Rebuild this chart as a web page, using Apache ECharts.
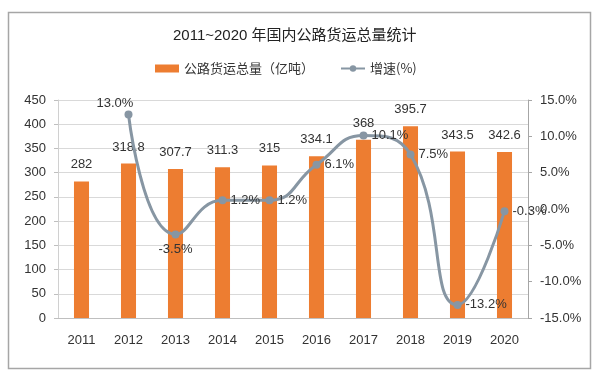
<!DOCTYPE html>
<html>
<head>
<meta charset="utf-8">
<script src="https://cdn.jsdelivr.net/npm/echarts@6/dist/echarts.min.js"></script>
<style>
  html, body { margin: 0; padding: 0; background: #fff; }
  #main { width: 600px; height: 376px; }
</style>
</head>
<body>
<div id="main"></div>
<script>
var years = ['2011', '2012', '2013', '2014', '2015', '2016', '2017', '2018', '2019', '2020'];
var freight = [282, 318.8, 307.7, 311.3, 315, 334.1, 368, 395.7, 343.5, 342.6];
var growth = ['-', 13.0, -3.5, 1.2, 1.2, 6.1, 10.1, 7.5, -13.2, -0.3];

// 增速标签位置
var growthLabelPos = ['right', [-28, -14], 'bottom', 'right', 'right', 'right', 'right', 'right', 'right', 'right'];

var chart = echarts.init(document.getElementById('main'));

var lineData = growth.map(function (v, i) {
  return {
    value: v,
    label: { position: growthLabelPos[i] }
  };
});

var font = '"Liberation Sans", "Noto Sans CJK SC", sans-serif';

var option = {
  animation: false,
  color: ['#ED7D31', '#8796A3'],
  textStyle: { fontFamily: font },
  graphic: [{
    type: 'rect',
    left: 6,
    top: 10,
    shape: { width: 582, height: 356 },
    style: { fill: 'none', stroke: '#a6a6a6', lineWidth: 1.5 }
  }],
  title: {
    text: '2011~2020 年国内公路货运总量统计',
    left: 168,
    top: 23,
    textStyle: { fontSize: 15, fontWeight: 'normal', color: '#222', fontFamily: font }
  },
  legend: {
    left: 150,
    top: 57,
    itemGap: 26,
    itemWidth: 24,
    itemHeight: 8,
    textStyle: { fontSize: 13, color: '#333', fontFamily: '"Noto Sans CJK SC", serif' },
    data: [
      { name: '公路货运总量（亿吨）', icon: 'rect' },
      { name: '增速(%)' }
    ]
  },
  grid: {
    left: 58,
    right: 72,
    top: 100,
    bottom: 58
  },
  xAxis: {
    type: 'category',
    data: years,
    axisLine: { lineStyle: { color: '#bfbfbf' } },
    axisTick: { show: false },
    axisLabel: { color: '#333', fontSize: 13, margin: 16 }
  },
  yAxis: [
    {
      type: 'value',
      min: 0,
      max: 450,
      interval: 50,
      axisLine: { show: true, lineStyle: { color: '#d0d0d0' } },
      axisTick: { show: true, length: 4, lineStyle: { color: '#bfbfbf' } },
      axisLabel: { color: '#333', fontSize: 13, margin: 12 },
      splitLine: { lineStyle: { color: '#d9d9d9' } }
    },
    {
      type: 'value',
      min: -15,
      max: 15,
      interval: 5,
      position: 'right',
      axisLine: { show: true, lineStyle: { color: '#a6a6a6' } },
      axisTick: { show: true, length: 4, lineStyle: { color: '#a6a6a6' } },
      axisLabel: {
        color: '#333',
        fontSize: 13,
        margin: 12,
        formatter: function (v) { return v.toFixed(1) + '%'; }
      },
      splitLine: { show: false }
    }
  ],
  series: [
    {
      name: '公路货运总量（亿吨）',
      type: 'bar',
      barWidth: '32%',
      data: freight,
      itemStyle: { color: '#ED7D31' },
      label: {
        show: true,
        position: 'top',
        distance: 10,
        color: '#333',
        fontSize: 13
      }
    },
    {
      name: '增速(%)',
      type: 'line',
      yAxisIndex: 1,
      smooth: 0.5,
      data: lineData,
      symbol: 'circle',
      symbolSize: 8,
      lineStyle: { width: 3, color: '#8796A3' },
      itemStyle: { color: '#8796A3' },
      label: {
        show: true,
        color: '#333',
        fontSize: 13,
        distance: 4,
        formatter: function (p) { return p.value.toFixed(1) + '%'; }
      }
    }
  ]
};

chart.setOption(option);
</script>
</body>
</html>
